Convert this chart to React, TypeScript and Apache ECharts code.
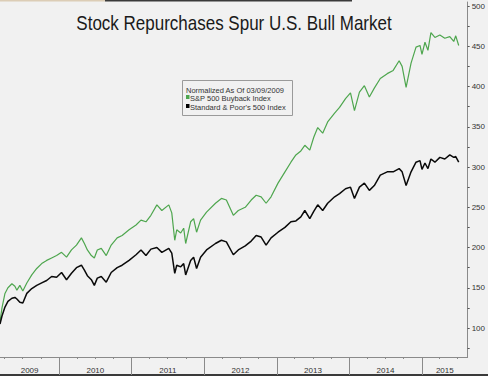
import React, { useEffect, useRef } from "react";
import * as echarts from "echarts";

const titleText = "Stock Repurchases Spur U.S. Bull Market";
const legendTitle = "Normalized As Of 03/09/2009";
const seriesNames = ["S&P 500 Buyback Index", "Standard & Poor's 500 Index"];

const dates = [
  "2009-03-09", "2009-03-19", "2009-04-03", "2009-04-18", "2009-05-08", "2009-05-23", "2009-06-02", "2009-06-17",
  "2009-07-02", "2009-07-22", "2009-08-16", "2009-09-10", "2009-10-05", "2009-10-30", "2009-11-24", "2009-12-19",
  "2010-01-13", "2010-02-07", "2010-03-04", "2010-03-29", "2010-04-23", "2010-05-08", "2010-05-23", "2010-06-12",
  "2010-06-27", "2010-07-12", "2010-08-01", "2010-08-26", "2010-09-20", "2010-10-20", "2010-11-14", "2010-12-19",
  "2011-01-23", "2011-02-17", "2011-03-14", "2011-04-08", "2011-05-08", "2011-06-02", "2011-07-07", "2011-07-22",
  "2011-08-06", "2011-08-16", "2011-09-05", "2011-09-20", "2011-09-30", "2011-10-25", "2011-11-09", "2011-11-24",
  "2011-12-14", "2012-01-13", "2012-02-27", "2012-03-28", "2012-04-22", "2012-05-27", "2012-06-21", "2012-07-26",
  "2012-08-25", "2012-09-19", "2012-10-14", "2012-11-08", "2012-12-03", "2013-01-07", "2013-02-11", "2013-03-13",
  "2013-04-07", "2013-05-02", "2013-05-22", "2013-06-16", "2013-07-06", "2013-07-26", "2013-08-20", "2013-09-14",
  "2013-10-19", "2013-11-13", "2013-12-13", "2014-01-07", "2014-01-27", "2014-02-21", "2014-03-18", "2014-04-12",
  "2014-05-07", "2014-06-06", "2014-07-11", "2014-08-10", "2014-09-09", "2014-09-24", "2014-10-14", "2014-11-08",
  "2014-12-03", "2014-12-23", "2015-01-02", "2015-01-17", "2015-02-01", "2015-02-16", "2015-03-08", "2015-04-02",
  "2015-04-27", "2015-05-22", "2015-06-11", "2015-06-21", "2015-07-06",
];

const buybackIdx = [
  108, 125, 143, 150, 155, 152, 147, 153,
  146, 156, 166, 174, 180, 184, 187, 190,
  194, 188, 197, 203, 212, 205, 197, 190,
  187, 197, 199, 190, 203, 212, 215, 222,
  228, 234, 232, 240, 253, 246, 253, 243,
  209, 222, 218, 224, 205, 232, 236, 219,
  234, 244, 255, 261, 259, 240, 246, 250,
  259, 265, 263, 255, 263, 280, 294, 306,
  315, 320, 327, 321, 337, 349, 342, 356,
  367, 374, 385, 392, 370, 393, 401, 387,
  398, 410, 416, 420, 432, 425, 399, 429,
  449, 451, 440, 455, 445, 467, 461, 464,
  460, 462, 456, 463, 451,
];

const sp500 = [
  105, 115, 126, 133, 137, 138, 136, 132,
  131, 143, 149, 153, 156, 159, 164, 163,
  169, 160, 168, 175, 178, 172, 165, 160,
  153, 162, 164, 157, 169, 175, 178, 184,
  191, 197, 190, 198, 200, 194, 199, 193,
  168, 178, 176, 180, 166, 184, 188, 174,
  188, 197, 205, 209, 207, 191, 197, 202,
  208, 215, 213, 203, 212, 219, 225, 232,
  233, 238, 246, 236, 245, 253, 246, 255,
  263, 267, 273, 275, 261, 275, 280, 271,
  277, 290, 294, 294, 298, 294, 277, 294,
  306, 308, 297, 305, 298, 310, 306, 312,
  310, 315, 312, 313, 306,
];

const yTickLabels = [100, 150, 200, 250, 300, 350, 400, 450, 500];
const yMinorTicks = [75, 100, 125, 150, 175, 200, 225, 250, 275, 300, 325, 350, 375, 400, 425, 450, 475, 500];
const yearBoundaries = ["2010-01-01", "2011-01-01", "2012-01-01", "2013-01-01", "2014-01-01", "2015-01-01"];
const yearLabelPositions = ["2009-08-05", "2010-07-02", "2011-07-02", "2012-07-02", "2013-07-02", "2014-07-02", "2015-04-27"];
const quarterTicks = [
  "2009-04-01", "2009-07-01", "2009-10-01", "2010-04-01", "2010-07-01", "2010-10-01",
  "2011-04-01", "2011-07-01", "2011-10-01", "2012-04-01", "2012-07-01", "2012-10-01",
  "2013-04-01", "2013-07-01", "2013-10-01", "2014-04-01", "2014-07-01", "2014-10-01",
  "2015-04-01", "2015-07-01",
];
const xStart = "2009-03-09";
const xEnd = "2015-08-20";

const ts = (s: string) => new Date(s + "T00:00:00Z").getTime();

export default function App() {
  const ref = useRef<HTMLDivElement>(null);
  useEffect(() => {
    if (!ref.current) return;
    const chart = echarts.init(ref.current, null, { renderer: "svg" });
    const green = "#4ea64e";
    const axisColor = "#8a8a8a";
    const labelFont = "Liberation Sans";
    const mkX = (extra: any) => ({
      type: "value",
      min: ts(xStart),
      max: ts(xEnd),
      position: "bottom",
      offset: 0,
      splitLine: { show: false },
      ...extra,
    });
    chart.setOption({
      animation: false,
      backgroundColor: "#f1f1f1",
      grid: { left: 0, right: 17, top: 2, bottom: 19, containLabel: false },
      xAxis: [
        mkX({
          axisLine: { show: true, lineStyle: { color: axisColor, width: 1 } },
          axisTick: { show: true, customValues: yearBoundaries.map(ts), length: 18, lineStyle: { color: axisColor } },
          axisLabel: {
            show: true,
            customValues: yearLabelPositions.map(ts),
            formatter: (v: number) => String(new Date(v).getUTCFullYear()),
            fontFamily: labelFont,
            fontSize: 8,
            color: "#333",
            margin: 9,
            hideOverlap: false,
          },
        }),
        mkX({
          axisLine: { show: false },
          axisTick: { show: true, customValues: quarterTicks.map(ts), length: 2, lineStyle: { color: axisColor } },
          axisLabel: { show: false },
        }),
      ],
      yAxis: {
        type: "value",
        position: "right",
        min: 64,
        max: 505,
        splitLine: { show: false },
        axisLine: { show: true, lineStyle: { color: axisColor, width: 1 } },
        axisTick: { show: true, customValues: yMinorTicks, length: 2, lineStyle: { color: "#555" } },
        axisLabel: { show: true, customValues: yTickLabels, fontFamily: labelFont, fontSize: 8, color: "#333", margin: 4 },
      },
      series: [
        {
          name: seriesNames[0],
          type: "line",
          showSymbol: false,
          data: dates.map((d, i) => [ts(d), buybackIdx[i]]),
          lineStyle: { color: green, width: 1.2 },
          itemStyle: { color: green },
        },
        {
          name: seriesNames[1],
          type: "line",
          showSymbol: false,
          data: dates.map((d, i) => [ts(d), sp500[i]]),
          lineStyle: { color: "#0a0a0a", width: 1.5 },
          itemStyle: { color: "#0a0a0a" },
        },
      ],
      graphic: [
        { type: "rect", left: 0, top: 0, shape: { width: 105, height: 1.5 }, style: { fill: "#dccdb6" } },
        { type: "rect", left: 105, top: 0, shape: { width: 247, height: 1.5 }, style: { fill: "#3a3a3a" } },
        { type: "rect", left: 0, top: 374, shape: { width: 488, height: 2 }, style: { fill: "#3a3a3a" } },
        {
          type: "text",
          x: 234,
          y: 13,
          scaleX: 0.85,
          style: { text: titleText, font: "20px Liberation Sans", fill: "#1a1a1a", textAlign: "center", textVerticalAlign: "top" },
        },
        { type: "rect", left: 182, top: 80, shape: { width: 110, height: 35 }, style: { fill: "#f1f1f1", stroke: "#9a9a9a", lineWidth: 1 } },
        { type: "text", left: 186, top: 86, style: { text: legendTitle, font: "7.5px Liberation Sans", fill: "#333" } },
        { type: "rect", left: 186, top: 95, shape: { width: 3.5, height: 4 }, style: { fill: green } },
        { type: "text", left: 190, top: 94, style: { text: seriesNames[0], font: "7.5px Liberation Sans", fill: "#333" } },
        { type: "rect", left: 186, top: 104, shape: { width: 3.5, height: 4 }, style: { fill: "#000" } },
        { type: "text", left: 190, top: 103, style: { text: seriesNames[1], font: "7.5px Liberation Sans", fill: "#333" } },
      ],
    });
    return () => chart.dispose();
  }, []);
  return <div ref={ref} style={{ position: "fixed", left: 0, top: 0, width: 488, height: 376 }} />;
}
